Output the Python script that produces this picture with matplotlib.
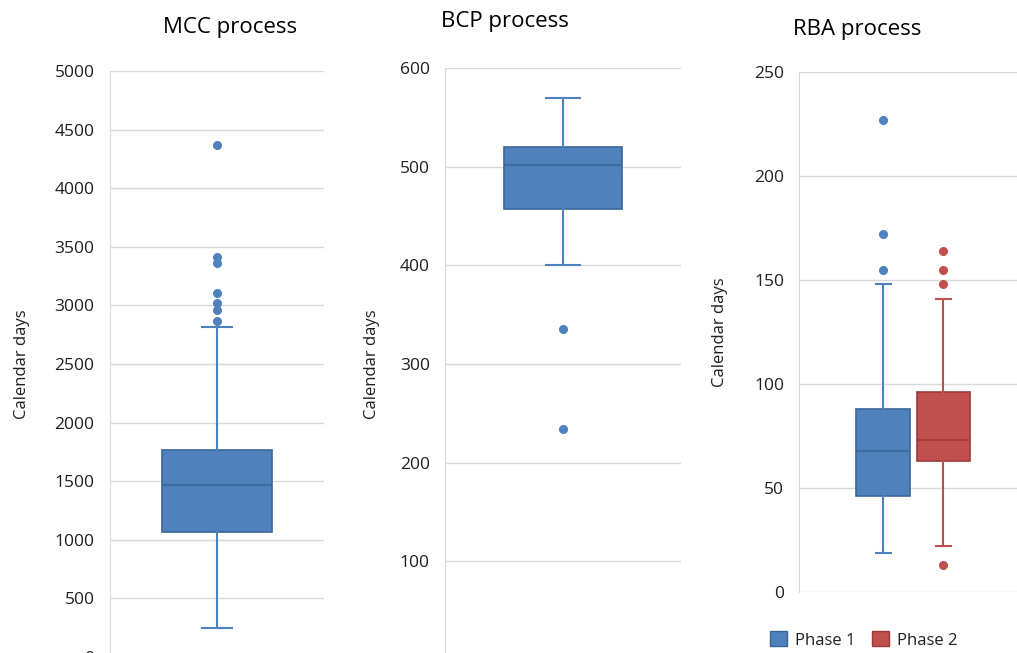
import matplotlib
matplotlib.use("Agg")
import matplotlib.pyplot as plt
from matplotlib.patches import Patch

plt.rcParams["font.family"] = ["Open Sans", "DejaVu Sans"]

# box stats: whislo, q1, median, q3, whishi, outliers
mcc_stats = [248, 1067, 1468, 1766, 2816]
mcc_fliers = [4370, 3410, 3360, 3110, 3020, 2960, 2870]

bcp_stats = [400, 457, 502, 520, 570]
bcp_fliers = [335, 234]

rba_labels = ["Phase 1", "Phase 2"]
rba_stats = [[19, 46, 68, 88, 148], [22, 63, 73, 96, 141]]
rba_fliers = [[227, 172, 155], [164, 155, 148, 13]]

titles = ["MCC process", "BCP process", "RBA process"]
blue, blue_edge = "#4F81BD", "#3B6698"
red, red_edge = "#C0504D", "#9B3B38"
grid_col = "#D9D9D9"
text_col = "#1F1F1F"


def make_stats(s, fl):
    return dict(whislo=s[0], q1=s[1], med=s[2], q3=s[3], whishi=s[4], fliers=fl)


def draw(ax, stats, fliers, positions, width, colors):
    for st, fl, pos, (fc, ec) in zip(stats, fliers, positions, colors):
        ax.bxp([make_stats(st, fl)], positions=[pos], widths=width, patch_artist=True,
               capwidths=width * 0.28,
               boxprops=dict(facecolor=fc, edgecolor=ec, linewidth=1.2),
               medianprops=dict(color=ec, linewidth=1.2),
               whiskerprops=dict(color=fc, linewidth=1.5),
               capprops=dict(color=fc, linewidth=1.5),
               flierprops=dict(marker="o", markerfacecolor=fc, markeredgecolor=fc, markersize=5.5))


def style(ax, ylim, step):
    ax.set_xlim(0.5, 1.5)
    ax.set_ylim(*ylim)
    ax.set_yticks(range(ylim[0], ylim[1] + 1, step))
    ax.yaxis.grid(True, color=grid_col, linewidth=1)
    ax.set_axisbelow(True)
    for sp in ["top", "right", "bottom"]:
        ax.spines[sp].set_visible(False)
    ax.spines["left"].set_color(grid_col)
    ax.set_xticks([])
    ax.tick_params(axis="y", length=0, pad=11, labelsize=12.5, labelcolor=text_col)
    ax.set_ylabel("Calendar days", fontsize=12, color=text_col)


fig = plt.figure(figsize=(10.17, 6.53), dpi=100)

ax1 = fig.add_axes([0.108, -0.006, 0.211, 0.897])
draw(ax1, [mcc_stats], [mcc_fliers], [1.0], 0.51, [(blue, blue_edge)])
style(ax1, (0, 5000), 500)
ax1.yaxis.set_label_coords(-0.37, 0.5)

ax2 = fig.add_axes([0.4376, -0.011, 0.232, 0.907])
draw(ax2, [bcp_stats], [bcp_fliers], [1.0], 0.50, [(blue, blue_edge)])
style(ax2, (0, 600), 100)
ax2.yaxis.set_label_coords(-0.275, 0.5)

ax3 = fig.add_axes([0.786, 0.0934, 0.224, 0.796])
draw(ax3, rba_stats, rba_fliers, [0.868, 1.132], 0.235, [(blue, blue_edge), (red, red_edge)])
style(ax3, (0, 250), 50)
ax3.yaxis.set_label_coords(-0.315, 0.5)

fig.text(163 / 1017, 1 - 28 / 653, titles[0], fontsize=16, color="black", va="center")
fig.text(441 / 1017, 1 - 22 / 653, titles[1], fontsize=16, color="black", va="center")
fig.text(793 / 1017, 1 - 30 / 653, titles[2], fontsize=16, color="black", va="center")

handles = [Patch(facecolor=blue, edgecolor=blue_edge, label=rba_labels[0]),
           Patch(facecolor=red, edgecolor=red_edge, label=rba_labels[1])]
fig.legend(handles=handles, loc="center", bbox_to_anchor=(864 / 1017, 1 - 640 / 653), ncol=2,
           frameon=False, fontsize=12, handlelength=1.0, handleheight=1.0, columnspacing=1.0,
           handletextpad=0.5, labelcolor=text_col)

fig.savefig("out.png", dpi=100)
